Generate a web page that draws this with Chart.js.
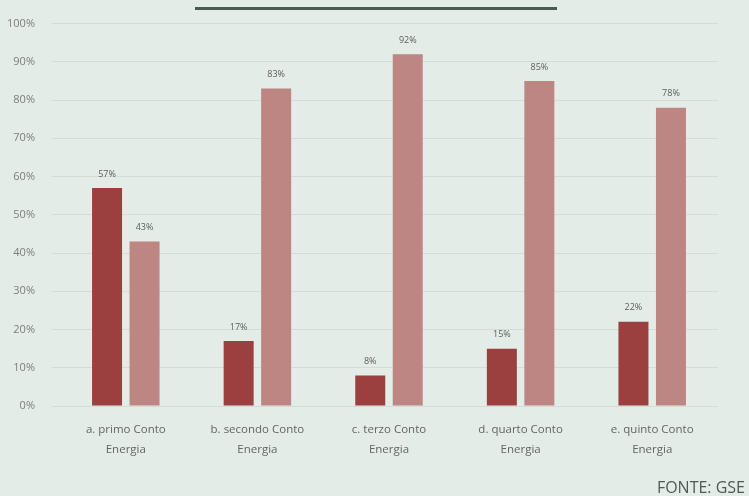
<!DOCTYPE html>
<html>
<head>
<meta charset="utf-8">
<script src="https://cdn.jsdelivr.net/npm/chart.js@4/dist/chart.umd.min.js"></script>
<style>
  html, body { margin: 0; padding: 0; background: #e3ece6; }
  #wrap { width: 749px; height: 496px; position: relative; }
</style>
</head>
<body>
<div id="wrap"><canvas id="contoChart"></canvas></div>
<script>
const categories = [
    ['a. primo Conto', 'Energia'],
    ['b. secondo Conto', 'Energia'],
    ['c. terzo Conto', 'Energia'],
    ['d. quarto Conto', 'Energia'],
    ['e. quinto Conto', 'Energia'],
]
const serieA = [57, 17, 8, 15, 22]
const serieB = [43, 83, 92, 85, 78]
const source = 'FONTE: GSE'

// etichette sopra le barre, riga del titolo e fonte
const extras = {
    id: 'extras',
    afterDatasetsDraw(chart) {
        const c = chart.ctx
        c.save()
        c.font = '9px "Open Sans", sans-serif'
        c.fillStyle = '#5a5f5c'
        c.textAlign = 'center'
        c.textBaseline = 'middle'
        chart.data.datasets.forEach((ds, i) => {
            chart.getDatasetMeta(i).data.forEach((bar, j) => {
                c.fillText(ds.data[j] + '%', bar.x, bar.y - 14)
            })
        })
        c.strokeStyle = '#4a5a52'
        c.lineWidth = 3
        c.beginPath()
        c.moveTo(195, 8.5)
        c.lineTo(557, 8.5)
        c.stroke()
        c.font = '16px "Open Sans", sans-serif'
        c.fillStyle = '#4d5a55'
        c.textAlign = 'right'
        c.textBaseline = 'alphabetic'
        c.fillText(source, 745, 493)
        c.restore()
    },
}

const ctx = document.querySelector('#contoChart').getContext('2d')

const contoChart = new Chart(ctx, {
    type: 'bar',
    data: {
        labels: categories,
        datasets: [
            {
                data: serieA,
                backgroundColor: '#9c3f3f',
                barPercentage: 0.8,
                categoryPercentage: 0.57,
            },
            {
                data: serieB,
                backgroundColor: '#bd8683',
                barPercentage: 0.8,
                categoryPercentage: 0.57,
            },
        ],
    },
    options: {
        responsive: true,
        maintainAspectRatio: false,
        animation: false,
        layout: { padding: { top: 21, right: 31, bottom: 0, left: 0 } },
        plugins: {
            legend: { display: false },
            tooltip: { enabled: false },
        },
        scales: {
            x: {
                grid: { display: false },
                border: { display: false },
                ticks: {
                    color: '#626764',
                    font: { family: '"Open Sans", sans-serif', size: 11.5, lineHeight: 1.7 },
                    padding: 6,
                },
                afterFit(scale) { scale.height = 90 },
            },
            y: {
                min: 0,
                max: 100,
                grid: { color: '#d3ddd7', lineWidth: 1 },
                border: { display: false },
                ticks: {
                    stepSize: 10,
                    color: '#7b807d',
                    font: { family: '"Open Sans", sans-serif', size: 11 },
                    padding: 17,
                    callback: v => v + '%',
                },
                afterFit(scale) { scale.width = 60 },
            },
        },
    },
    plugins: [extras],
})
</script>
</body>
</html>
